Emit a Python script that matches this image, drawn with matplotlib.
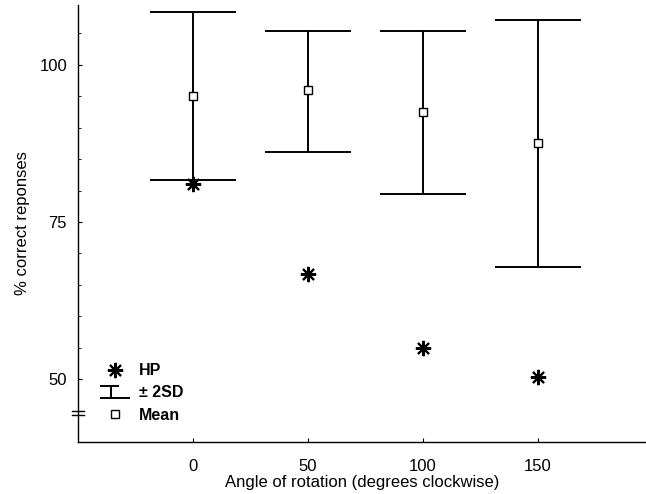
import numpy as np
import matplotlib.pyplot as plt
from matplotlib.path import Path
from matplotlib.lines import Line2D

plt.rcParams['font.family'] = ['Liberation Sans', 'DejaVu Sans']

angles = [0, 50, 100, 150]
mean_vals = [95.1, 95.9, 92.5, 87.6]
sd_upper = [108.4, 105.4, 105.4, 107.1]
sd_lower = [81.6, 86.2, 79.5, 67.9]
hp_vals = [81.0, 66.8, 54.9, 50.3]
yticks = [50, 75, 100]

fig = plt.figure(figsize=(6.46, 4.94), dpi=100)
ax = fig.add_axes([0.121, 0.105, 0.879, 0.885])

mean = np.array(mean_vals)
err = [mean - np.array(sd_lower), np.array(sd_upper) - mean]
ax.errorbar(angles, mean, yerr=err, fmt='none', ecolor='black',
            elinewidth=1.4, capsize=31, capthick=1.4)
ax.plot(angles, mean, ls='none', marker='s', ms=6, mfc='white', mec='black', mew=1)
star = (8, 2, 0)
ax.plot(angles, hp_vals, ls='none', marker=star, ms=11, mec='black', mew=1.5)

ax.set_xlim(-50, 197)
ax.set_ylim(40, 109.5)
ax.set_xticks(angles)
ax.set_yticks(yticks)
ax.set_yticks(np.arange(45, 110, 5), minor=True)
ax.tick_params(direction='in', length=3, width=0.8, labelsize=12)
ax.tick_params(axis='y', which='minor', direction='in', length=2, width=0.6)
ax.tick_params(axis='x', pad=12)
ax.tick_params(axis='y', pad=8)
ax.spines['top'].set_visible(False)
ax.spines['right'].set_visible(False)
ax.spines['left'].set_linewidth(1)
ax.spines['bottom'].set_linewidth(1)

ax.set_xlabel('Angle of rotation (degrees clockwise)', fontsize=12, labelpad=1)
ax.set_ylabel('% correct reponses', fontsize=12, labelpad=7)

# axis break on the y axis
for yb in (0.062, 0.072):
    ax.plot([-0.01, 0.01], [yb, yb], transform=ax.transAxes, color='black',
            lw=1, clip_on=False)

# legend
sd_path = Path([(-15, 6), (4, 6), (-4, 6), (-4, -6), (-15, -6), (15, -6)],
               [Path.MOVETO, Path.LINETO, Path.MOVETO, Path.LINETO, Path.MOVETO, Path.LINETO])
handles = [
    Line2D([], [], ls='none', marker=star, ms=11, mec='black', mew=1.5),
    Line2D([], [], ls='none', marker=sd_path, ms=21.5, mec='black', mew=1.4, mfc='none'),
    Line2D([], [], ls='none', marker='s', ms=6, mfc='white', mec='black', mew=1),
]
leg = ax.legend(handles, ['HP', '± 2SD', 'Mean'], loc='lower left',
                bbox_to_anchor=(0.012, 0.012), frameon=False, handlelength=2.0,
                handletextpad=0.5, labelspacing=0.45,
                prop={'size': 11.5, 'weight': 'bold'})

fig.savefig('out.png', dpi=100)
